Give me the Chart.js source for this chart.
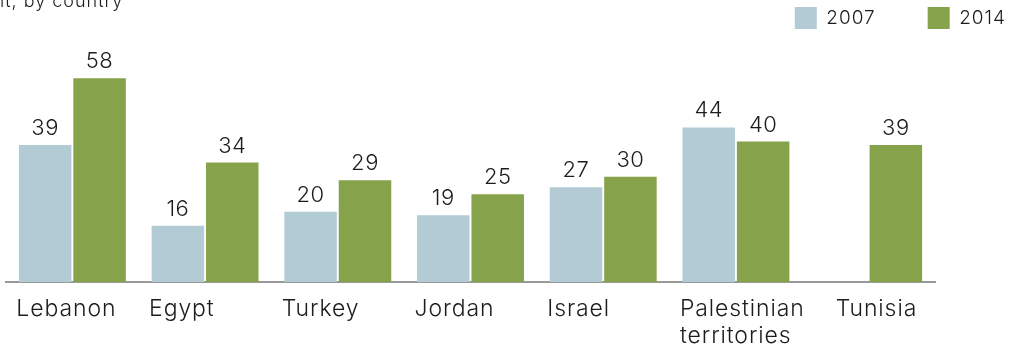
<!DOCTYPE html>
<html><head><meta charset="utf-8">
<script src="https://cdn.jsdelivr.net/npm/chart.js@4/dist/chart.umd.min.js"></script>
<style>html,body{margin:0;padding:0;background:#fff;overflow:hidden}#wrap{width:1015px;height:348px}</style>
</head><body><div id="wrap"><canvas id="c" width="1015" height="348"></canvas></div>
<script>
const categories = ['Lebanon', 'Egypt', 'Turkey', 'Jordan', 'Israel', ['Palestinian', 'territories'], 'Tunisia'];
const seriesNames = ['2007', '2014'];
const values2007 = [39, 16, 20, 19, 27, 44, null];
const values2014 = [58, 34, 29, 25, 30, 40, 39];
const titleText = 'it, by country';

const FONT = 'Inter, "Liberation Sans", Arial, sans-serif';
const TEXT = '#1c1c1c';

const spacingPlugin = {
  id: 'spacing',
  beforeLayout(chart) { chart.ctx.letterSpacing = '1px'; },
  beforeDraw(chart) { chart.ctx.letterSpacing = '1px'; }
};

const labelsPlugin = {
  id: 'labels',
  afterDatasetsDraw(chart) {
    const ctx = chart.ctx;
    const xs = chart.scales.x;
    ctx.save();
    // value labels
    ctx.letterSpacing = '0.5px';
    ctx.font = '300 22px ' + FONT;
    ctx.fillStyle = TEXT;
    ctx.textAlign = 'center';
    ctx.textBaseline = 'alphabetic';
    chart.data.datasets.forEach((ds, di) => {
      const meta = chart.getDatasetMeta(di);
      meta.data.forEach((el, i) => {
        const v = ds.data[i];
        if (v === null || v === undefined) return;
        ctx.fillText(String(v), el.x, el.y - 10);
      });
    });
    // category labels, left aligned under each group
    ctx.letterSpacing = '0.9px';
    ctx.font = '300 23px ' + FONT;
    ctx.textAlign = 'left';
    categories.forEach((lab, i) => {
      const c = xs.getPixelForValue(i);
      const x = c + (values2007[i] === null ? -33 : -56);
      const lines = Array.isArray(lab) ? lab : [lab];
      lines.forEach((t, k) => ctx.fillText(t, x, xs.top + 34 + k * 27));
    });
    // partial title
    ctx.letterSpacing = '1px';
    ctx.font = '300 18px ' + FONT;
    ctx.fillText(titleText, 0, 7);
    ctx.restore();
  }
};

new Chart(document.getElementById('c'), {
  type: 'bar',
  data: {
    labels: categories,
    datasets: [
      { label: seriesNames[0], data: values2007, backgroundColor: '#b3cbd5', borderWidth: 0,
        categoryPercentage: 0.82, barPercentage: 0.965 },
      { label: seriesNames[1], data: values2014, backgroundColor: '#86a24b', borderWidth: 0,
        categoryPercentage: 0.82, barPercentage: 0.965 }
    ]
  },
  options: {
    responsive: false,
    animation: false,
    devicePixelRatio: 1,
    layout: { padding: { top: -45, right: -43, left: 6, bottom: 0 } },
    plugins: {
      tooltip: { enabled: false },
      legend: {
        position: 'top', align: 'end',
        labels: { boxWidth: 22, boxHeight: 22, padding: 52, color: TEXT,
          font: { family: FONT, size: 19, weight: 300 } }
      }
    },
    scales: {
      x: {
        grid: { display: false },
        border: { display: true, color: '#999999', width: 2 },
        ticks: { display: false },
        afterFit(s) { s.height = 66; }
      },
      y: {
        position: 'right', min: 0, max: 69.2,
        grid: { display: false }, border: { display: false },
        ticks: { display: false },
        afterFit(s) { s.width = 123; }
      }
    }
  },
  plugins: [spacingPlugin, labelsPlugin]
});
</script></body></html>
